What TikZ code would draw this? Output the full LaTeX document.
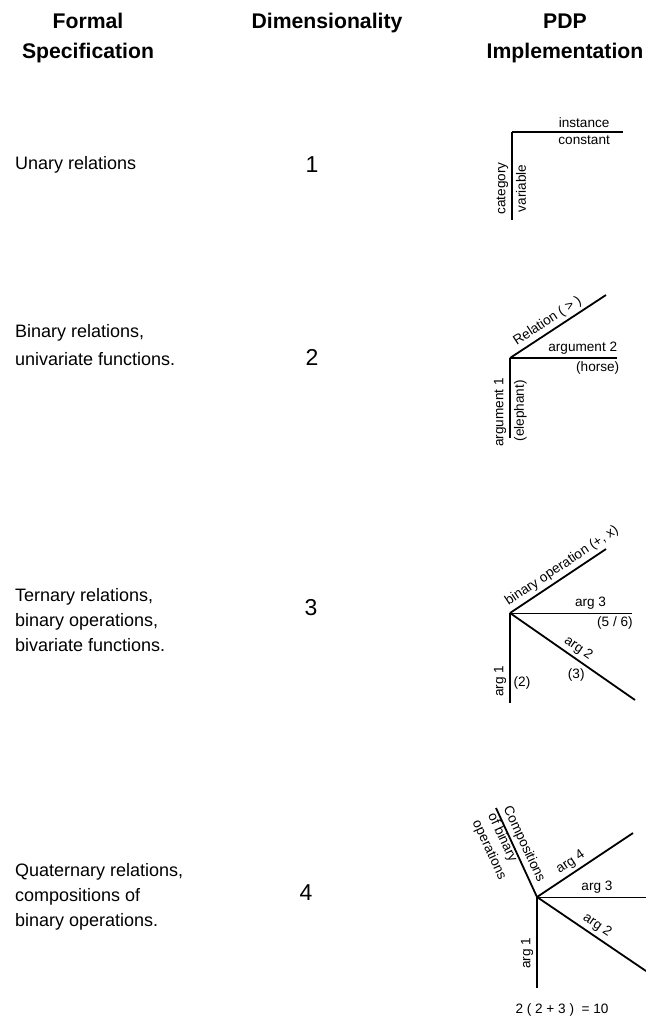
\documentclass[tikz,border=0pt]{standalone}
\usepackage{fontspec}
\setmainfont{Liberation Sans}
\usetikzlibrary{positioning}

\begin{document}
\begin{tikzpicture}[
    x=0.5pt, y=0.5pt,
    head/.style={font=\fontsize{10.6}{15}\selectfont\bfseries, align=center},
    spec/.style={font=\fontsize{9}{12.5}\selectfont, align=left, anchor=west},
    dim/.style={font=\fontsize{11.5}{14}\selectfont},
    lbl/.style={font=\fontsize{6.8}{8.5}\selectfont, inner sep=1.5pt},
    axis/.style={line width=0.9pt},
    thin axis/.style={line width=0.5pt}
]
\useasboundingbox (0,0) rectangle (646,-1019);

% column heads
\node[head] (hspec) at (88,-38) {Formal\\Specification};
\node[head] (hdim) at (327,-23) {Dimensionality};
\node[head] (hpdp) at (565,-38) {PDP\\Implementation};

% formal specification
\node[spec] (s1) at (8,-165) {Unary relations};
\node[spec] (s2) at (8,-345) {Binary relations,\\[1.5pt]univariate functions.};
\node[spec] (s3) at (8,-620) {Ternary relations,\\binary operations,\\bivariate functions.};
\node[spec] (s4) at (8,-897) {Quaternary relations,\\compositions of\\binary operations.};

% dimensionality
\node[dim] (d1) at (312,-165) {1};
\node[dim] (d2) at (312,-357) {2};
\node[dim] (d3) at (311,-608) {3};
\node[dim] (d4) at (306,-893) {4};

% unary
\coordinate (o1) at (512,-132);
\coordinate (i1) at (623,-132);
\coordinate (c1) at (512,-220);
\draw[axis] (o1) -- (i1)
  node[lbl, pos=0.65, above] (inst) {instance}
  node[lbl, pos=0.65, below] (const) {constant};
\draw[axis] (c1) -- (o1)
  node[lbl, pos=0.36, sloped, above] (cat) {category}
  node[lbl, pos=0.36, sloped, below] (var) {variable};

% binary
\coordinate (o2) at (510,-358);
\coordinate (r2) at (606,-295);
\coordinate (a22) at (617,-358);
\coordinate (a12) at (510,-438);
\draw[axis] (o2) -- (r2)
  node[lbl, pos=0.45, sloped, above] (rel) {Relation ( > )};
\draw[axis] (o2) -- (a22)
  node[lbl, pos=0.68, above] (arg22) {argument 2}
  node[lbl, pos=0.82, below] (horse) {(horse)};
\draw[axis] (a12) -- (o2)
  node[lbl, pos=0.32, sloped, above] (arg12) {argument 1}
  node[lbl, pos=0.34, sloped, below] (eleph) {(elephant)};

% ternary
\coordinate (o3) at (510,-613);
\coordinate (b3) at (606,-549);
\coordinate (a33) at (632,-613);
\coordinate (a23) at (635,-700);
\coordinate (a13) at (510,-703);
\draw[axis] (o3) -- (b3)
  node[lbl, pos=0.6, sloped, above] (binop) {binary operation (+, x)};
\draw[thin axis] (o3) -- (a33)
  node[lbl, pos=0.66, above] (arg33) {arg 3}
  node[lbl, pos=0.86, below] (v33) {(5 / 6)};
\draw[axis] (o3) -- (a23)
  node[lbl, pos=0.5, sloped, above] (arg23) {arg 2}
  node[lbl, pos=0.53, yshift=-8pt] (v23) {(3)};
\draw[axis] (a13) -- (o3)
  node[lbl, pos=0.24, sloped, above] (arg13) {arg 1}
  node[lbl, pos=0.22, xshift=6pt] (v13) {(2)};

% quaternary
\coordinate (o4) at (537,-897);
\coordinate (c4) at (496,-808);
\coordinate (a44) at (633,-833);
\coordinate (a34) at (646,-897);
\coordinate (a24) at (646,-971);
\coordinate (a14) at (537,-988);
\draw[axis] (c4) -- (o4);
\node[lbl, rotate=-65, anchor=west, align=left] (comp) at (489.6,-810.9)
  {Compositions\\of binary\\operations};
\draw[axis] (o4) -- (a44)
  node[lbl, pos=0.41, sloped, above] (arg44) {arg 4};
\draw[thin axis] (o4) -- (a34)
  node[lbl, pos=0.55, above] (arg34) {arg 3};
\draw[axis] (o4) -- (a24)
  node[lbl, pos=0.5, sloped, above] (arg24) {arg 2};
\draw[axis] (a14) -- (o4)
  node[lbl, pos=0.38, sloped, above] (arg14) {arg 1};
\node[lbl] (calc4) at (562,-1010) {2 ( 2 + 3 )\ \ = 10};
\end{tikzpicture}
\end{document}
